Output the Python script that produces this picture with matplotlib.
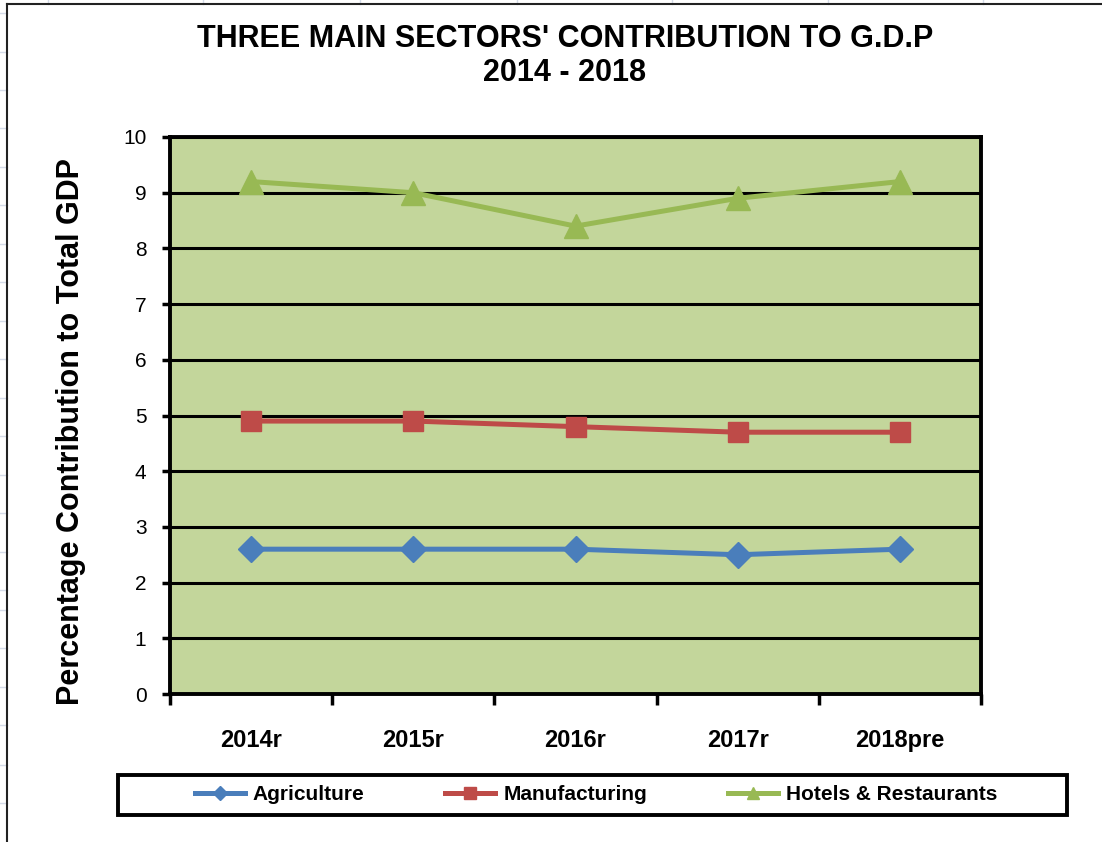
import matplotlib.pyplot as plt
from matplotlib.lines import Line2D
from matplotlib.patches import Rectangle

plt.rcParams['font.family'] = ['Liberation Sans', 'DejaVu Sans']

# Data
years = ['2014r', '2015r', '2016r', '2017r', '2018pre']
agriculture = [2.6, 2.6, 2.6, 2.5, 2.6]
manufacturing = [4.9, 4.9, 4.8, 4.7, 4.7]
hotels = [9.2, 9.0, 8.4, 8.9, 9.2]

W, H = 1102, 842
fig = plt.figure(figsize=(W / 100, H / 100), dpi=100)

# faint spreadsheet cells around the chart object
grid_c = '#d4dbe8'
for y in [13, 52, 90, 128, 167, 205, 244, 282, 321, 359, 398, 436, 475,
          513, 552, 590, 610, 648, 687, 725, 765, 803]:
    fig.add_artist(Line2D([0, 7 / W], [1 - y / H] * 2, color=grid_c, lw=1))
for x in [48, 203, 360, 517, 672, 828, 983]:
    fig.add_artist(Line2D([x / W] * 2, [1, 1 - 4 / H], color=grid_c, lw=1))
# chart object border
fig.add_artist(Line2D([7 / W, 7 / W], [0, 1 - 4 / H], color='#222222', lw=1.5))
fig.add_artist(Line2D([7 / W, 1], [1 - 4 / H, 1 - 4 / H], color='#222222', lw=1.5))

ax = fig.add_axes([170 / W, 1 - 694 / H, 811 / W, 557 / H])
ax.set_facecolor('#C3D69B')

x = list(range(len(years)))
ax.plot(x, agriculture, color='#4A7EBB', lw=3.6, marker='D', ms=13,
        label='Agriculture', zorder=4)
ax.plot(x, manufacturing, color='#BE4B48', lw=3.6, marker='s', ms=15,
        label='Manufacturing', zorder=4)
ax.plot(x, hotels, color='#98B954', lw=3.6, marker='^', ms=17,
        label='Hotels & Restaurants', zorder=4)

ax.set_xlim(-0.5, len(years) - 0.5)
ax.set_ylim(0, 10)
ax.set_yticks(range(0, 11))
ax.yaxis.grid(True, color='black', lw=2.2)
ax.set_axisbelow(True)

ax.set_xticks(x)
ax.set_xticklabels(years, fontsize=17, fontweight='bold')
ax.set_xticks([i - 0.5 for i in range(len(years) + 1)], minor=True)
ax.tick_params(axis='x', which='major', length=0, pad=25)
ax.tick_params(axis='x', which='minor', length=8, width=2.5, direction='out')
ax.tick_params(axis='y', length=6, width=2.5, labelsize=15, pad=11)

for s in ax.spines.values():
    s.set_linewidth(2.8)

ax.set_ylabel('Percentage Contribution to Total GDP', fontsize=22,
              fontweight='bold')
ax.yaxis.set_label_coords(-(170 - 86) / 811, 1 - (432 - 137) / 557)

fig.text(565 / W, 1 - 39 / H, "THREE MAIN SECTORS' CONTRIBUTION TO G.D.P",
         ha='center', va='center', fontsize=22, fontweight='bold')
fig.text(565 / W, 1 - 73 / H, '2014 - 2018', ha='center', va='center',
         fontsize=22, fontweight='bold')

# legend box drawn as a figure patch, entries without frame
fig.add_artist(Rectangle((118 / W, 1 - 815 / H), (1067 - 118) / W, 40 / H,
                         transform=fig.transFigure, fill=False,
                         edgecolor='black', lw=2.8))
fig.legend(loc='center', bbox_to_anchor=(596 / W, 1 - 795 / H),
           ncol=3, prop={'weight': 'bold', 'size': 15}, frameon=False,
           markerscale=0.55, handlelength=2.4, handletextpad=0.37,
           columnspacing=3.9)

fig.savefig('out.png', dpi=100)
